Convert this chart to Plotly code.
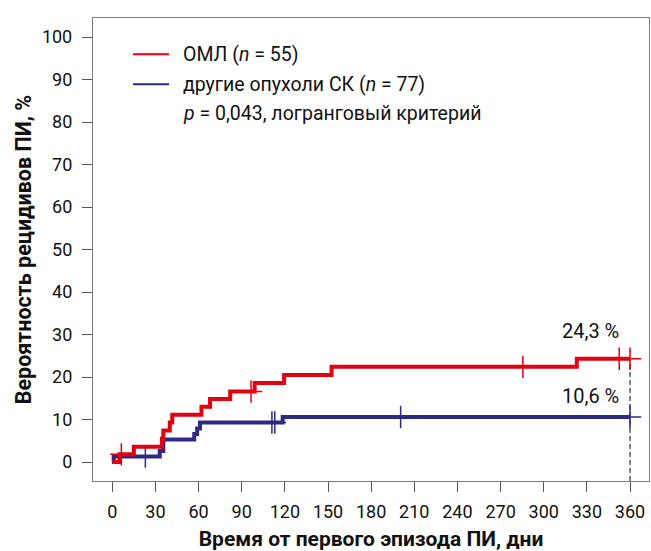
import plotly.graph_objects as go
import numpy as np

# ---- data ----
red_t = [0, 5, 15, 34.5, 35.5, 40, 41.7, 62, 68, 82, 99, 119.5, 152.5, 323, 360]
red_v = [0, 1.8, 3.6, 5.5, 7.4, 9.3, 11.1, 13.0, 14.8, 16.6, 18.6, 20.5, 22.4, 24.3, 24.3]
red_cens_t = [6.3, 96.5, 285.5, 352.5, 360]

blue_t = [0, 1, 33, 35.5, 57, 59, 61, 118.5, 360]
blue_v = [0, 1.3, 2.6, 5.3, 6.6, 7.9, 9.3, 10.6, 10.6]
blue_cens_t = [23, 111, 113, 200.5, 360]

red_name = "ОМЛ (<i>n</i> = 55)"
blue_name = "другие опухоли СК (<i>n</i> = 77)"
p_text = "<i>p</i> = 0,043, логранговый критерий"

x_ticks = list(range(0, 361, 30))
y_ticks = list(range(0, 101, 10))

RED = "#e3000f"
BLUE = "#2c2a85"
FONT = "Roboto"
X_RANGE = [-13.4, 373.2]
Y_RANGE = [-4.47, 104.5]


def step_value(ts, vs, t):
    i = np.searchsorted(np.array(ts), t, side="right") - 1
    return vs[max(i, 0)]


fig = go.Figure()

# dashed reference line at 360 days
fig.add_trace(go.Scatter(
    x=[red_t[-1], red_t[-1]], y=[Y_RANGE[0], red_v[-1]], mode="lines",
    line=dict(color="#333333", width=1.2, dash="5px,3px"),
    showlegend=False, hoverinfo="skip"))

for ts, vs, cens, col, name in [(blue_t, blue_v, blue_cens_t, BLUE, blue_name),
                                (red_t, red_v, red_cens_t, RED, red_name)]:
    fig.add_trace(go.Scatter(
        x=ts, y=vs, mode="lines", name=name,
        line=dict(color=col, width=4, shape="hv"), showlegend=False))
    fig.add_trace(go.Scatter(
        x=cens, y=[step_value(ts, vs, c) for c in cens], mode="markers",
        marker=dict(symbol="cross-thin", size=16,
                    line=dict(color=col, width=1.5)),
        showlegend=False))

# legend (drawn as key lines + labels in the upper-left corner)
legend_rows = [(red_name, RED, 0.9216), (blue_name, BLUE, 0.8568),
               (p_text, None, 0.7933)]
for text, col, yp in legend_rows:
    if col is not None:
        fig.add_shape(type="line", xref="paper", yref="paper",
                      x0=0.0719, x1=0.1367, y0=yp, y1=yp,
                      line=dict(color=col, width=2))
    fig.add_annotation(
        x=0.1583, y=yp, xref="paper", yref="paper", text=text,
        showarrow=False, xanchor="left", yanchor="middle",
        font=dict(family=FONT, size=19.5, color="#111111"))

# final value labels
for vs, dy in [(red_v, 6.5), (blue_v, 4.9)]:
    fig.add_annotation(
        x=353.5, y=vs[-1] + dy, xref="x", yref="y",
        text=f"{vs[-1]:.1f} %".replace(".", ","), showarrow=False,
        xanchor="right", yanchor="middle",
        font=dict(family=FONT, size=20, color="#111111"))

axis_common = dict(
    showline=True, linecolor="#7a7a7a", linewidth=1.3, mirror=True,
    ticks="outside", tickcolor="#555555", tickwidth=1.3, ticklen=10,
    showgrid=False, zeroline=False,
    tickfont=dict(family=FONT, size=18, color="#111111"))

fig.update_xaxes(
    range=X_RANGE, tickvals=x_ticks, ticktext=[str(v) for v in x_ticks],
    title=dict(text="<b>Время от первого эпизода ПИ, дни</b>",
               font=dict(family=FONT, size=21, color="#111111"), standoff=12),
    ticklabelstandoff=4, **axis_common)
fig.update_yaxes(
    range=Y_RANGE, tickvals=y_ticks, ticktext=[str(v) for v in y_ticks],
    title=dict(text="<b>Вероятность рецидивов ПИ, %</b>",
               font=dict(family=FONT, size=21.5, color="#111111"), standoff=4),
    ticklabelstandoff=6, **axis_common)

fig.update_layout(
    width=651, height=551,
    margin=dict(l=93, r=2, t=18, b=70),
    paper_bgcolor="white", plot_bgcolor="white",
    showlegend=False,
)

fig.write_html("out.html")
